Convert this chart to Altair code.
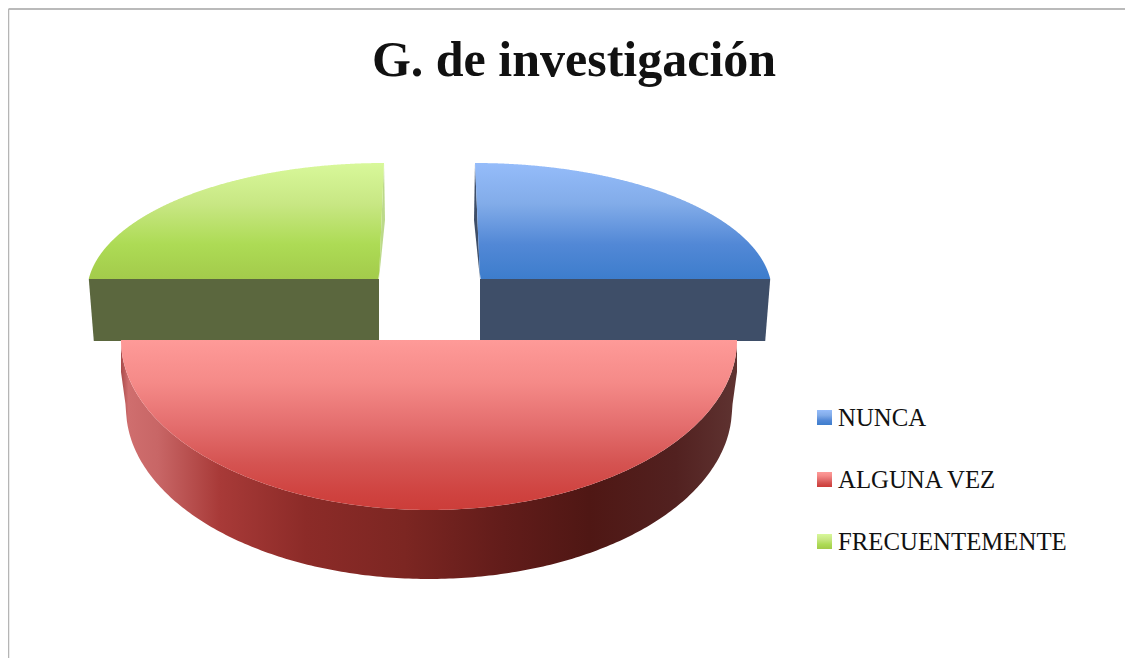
import math
import altair as alt
import pandas as pd

TITLE = "G. de investigación"
CATEGORIES = ["NUNCA", "ALGUNA VEZ", "FRECUENTEMENTE"]
SHARES = [25, 50, 25]

PAD_TOP = 90
W, H = 1117, 560
X = alt.X("x:Q", axis=None, scale=alt.Scale(domain=[8, 8 + W], nice=False, zero=False))
Y = alt.Y("y:Q", axis=None, scale=alt.Scale(domain=[8 + PAD_TOP + H, 8 + PAD_TOP], nice=False, zero=False))


def vgrad(stops):
    return alt.Gradient(gradient="linear", x1=0, y1=0, x2=0, y2=1,
                        stops=[alt.GradientStop(offset=o, color=c) for o, c in stops])


def hgrad(stops):
    return alt.Gradient(gradient="linear", x1=0, y1=0, x2=1, y2=0,
                        stops=[alt.GradientStop(offset=o, color=c) for o, c in stops])


def ell(cx, cy, a, b, t):
    return cx + a * math.sin(t), cy - b * math.cos(t)


def lerp(p, q, x):
    return p[1] + (q[1] - p[1]) * (x - p[0]) / (q[0] - p[0])


def area(rows, fill):
    return alt.Chart(pd.DataFrame(rows, columns=["x", "y", "y2"])).mark_area(
        fill=fill, stroke=None, interpolate="linear"
    ).encode(x=X, y=Y, y2="y2:Q")


def sweep(start_share, share, cx, cy, a, b, n=500):
    pts = []
    for i in range(n + 1):
        t = 2 * math.pi * (start_share + share * i / n) / 100
        pts.append(ell(cx, cy, a, b, t))
    return pts


# --- blue slice (first share, clockwise from twelve o'clock)
BASE_Y, FACE_Y = 279, 341
QCY, QA, QB = 293, 297, 130
blue_pts = [p for p in sweep(0, SHARES[0], 475, QCY, QA, QB) if p[1] <= BASE_Y]
blue_top = []
for x, y in sorted(blue_pts):
    low = lerp((475, 163), (480, BASE_Y), x) if x < 480 else BASE_Y
    blue_top.append((x, y, low))
blue_right = blue_pts[-1][0]
blue_top.append((blue_right, BASE_Y, BASE_Y))
blue_face = [(480, BASE_Y, FACE_Y), (blue_right - 5, BASE_Y, FACE_Y), (blue_right, BASE_Y, BASE_Y)]
blue_side = [(474, 220, 220), (475, 163, 230), (480, BASE_Y, BASE_Y)]

# --- green slice (last share, ends at twelve o'clock)
green_pts = [p for p in sweep(100 - SHARES[2], SHARES[2], 384, QCY, QA, QB) if p[1] <= BASE_Y]
green_left = green_pts[0][0]
green_top = [(green_left, BASE_Y, BASE_Y)]
for x, y in sorted(green_pts):
    low = lerp((379, BASE_Y), (384, 163), x) if x > 379 else BASE_Y
    green_top.append((x, y, low))
green_face = [(green_left, BASE_Y, BASE_Y), (green_left + 5, BASE_Y, FACE_Y), (379, BASE_Y, FACE_Y)]
green_side = [(379, BASE_Y, BASE_Y), (384, 163, 230), (385, 220, 220)]

# --- red slice (middle share): exploded toward the viewer
RCX, RCY, RA, RB = 429, 340, 308, 170
LCY, LA, LB = 408, 303, 171
red_pts = sorted(sweep(SHARES[0], SHARES[1], RCX, RCY, RA, RB, n=240))
red_top = [(x, RCY, y) for x, y in red_pts]
red_wall = []
for x, y in red_pts:
    dx = abs(x - RCX)
    if dx < LA:
        low = LCY + LB * math.sqrt(1 - (dx / LA) ** 2)
    else:
        low = lerp((RA, RCY + 32), (LA, LCY), dx)
    red_wall.append((x, y, low))

BLUE_TOP = [(0, "#95bcfa"), (0.35, "#82ace9"), (0.7, "#5288d6"), (1, "#3d7dcc")]
RED_TOP = [(0, "#fe9a98"), (0.25, "#f58a88"), (0.5, "#e46e6e"), (0.72, "#d55452"), (0.9, "#cf4340"), (1, "#cc3d39")]
GREEN_TOP = [(0, "#d8f89a"), (0.35, "#c8e784"), (0.7, "#addb55"), (1, "#a3cb4b")]
RED_WALL = [(0, "#a84a4a"), (0.012, "#cf6e6e"), (0.06, "#c86666"), (0.16, "#a83a38"), (0.3, "#8c2b28"),
            (0.46, "#7c2622"), (0.62, "#621c1a"), (0.76, "#4f1714"), (0.9, "#522120"), (1, "#5f3331")]

layers = [
    area(blue_side, "#3e4e68"),
    area(blue_top, vgrad(BLUE_TOP)),
    area(blue_face, "#3e4e68"),
    area(green_side, "#bcd98a"),
    area(green_top, vgrad(GREEN_TOP)),
    area(green_face, "#5b673e"),
    area(red_wall, hgrad(RED_WALL)),
    area(red_top, vgrad(RED_TOP)),
]

# --- frame
one = pd.DataFrame({"a": [0]})
layers.append(alt.Chart(one).mark_rule(color="#a3a3a3", strokeWidth=1.5).encode(
    x=alt.value(0.5), x2=alt.value(W), y=alt.value(1 - PAD_TOP)))
layers.append(alt.Chart(one).mark_rule(color="#b5b5b5", strokeWidth=1.5).encode(
    x=alt.value(0.5), y=alt.value(1 - PAD_TOP), y2=alt.value(H)))

# --- legend
LEG_FILLS = [BLUE_TOP, RED_TOP, GREEN_TOP]
for i, cat in enumerate(CATEGORIES):
    top = 410 + 62 * i - 8 - PAD_TOP
    row = pd.DataFrame({"c": [cat]})
    layers.append(alt.Chart(row).mark_rect(fill=vgrad(LEG_FILLS[i])).encode(
        x=alt.value(809), x2=alt.value(824), y=alt.value(top), y2=alt.value(top + 15)))
    layers.append(alt.Chart(row).mark_text(
        align="left", baseline="alphabetic", font="Liberation Serif", fontSize=24.8, color="#111111"
    ).encode(x=alt.value(830), y=alt.value(top + 16), text="c:N"))

chart = alt.layer(*layers).properties(
    width=W,
    height=H,
    padding={"left": 0, "top": PAD_TOP, "right": 0, "bottom": 0},
    autosize="none",
    background="white",
    title=alt.TitleParams(TITLE, anchor="middle", dx=7.5, dy=93, offset=15, font="Liberation Serif",
                          fontSize=50, fontWeight="bold", color="#111111"),
).configure_view(stroke=None)

chart.save("out.html", embed_options={"renderer": "svg", "actions": False})
